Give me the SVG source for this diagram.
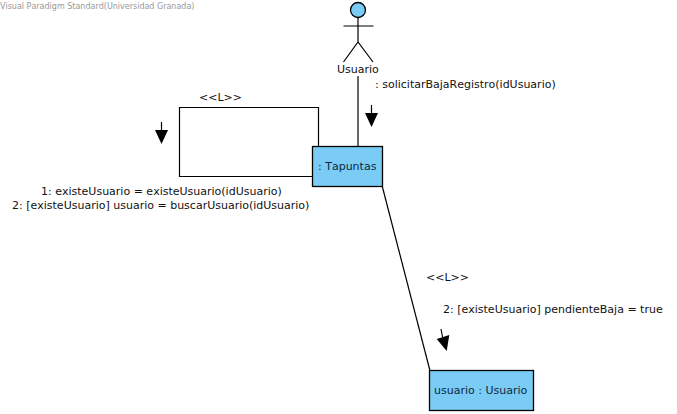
<svg xmlns="http://www.w3.org/2000/svg" width="677" height="414" viewBox="0 0 677 414">
<style>
text{font-family:"DejaVu Sans",sans-serif;font-size:11px;fill:#111;font-kerning:none}
.wm{font-size:8px;fill:#999}
.box{fill:#7accf5;stroke:#000;stroke-width:1.3}
.line{fill:none;stroke:#000;stroke-width:1.2}
.nt{fill:#0a2a40}
</style>
<rect width="677" height="414" fill="#fff"/>
<text class="wm" x="0" y="9">Visual Paradigm Standard(Universidad Granada)</text>
<g id="connectors">
<line class="line" x1="358" y1="76" x2="358" y2="146"/>
<path class="line" d="M318.500 146V107.500H179.500V176.500H312"/>
<line class="line" x1="382.300" y1="186.500" x2="429.800" y2="370"/>
<path class="line" d="M371.500 105V115"/><path d="M365 113H378L371.500 127Z"/>
<path class="line" d="M161.500 122V132"/><path d="M155 130H168L161.500 144Z"/>
<path class="line" d="M441 329L442.500 337"/><path d="M436.700 339L449.300 335L446.700 351Z"/>
</g>
<g id="labels">
<text x="199" y="101">&lt;&lt;L&gt;&gt;</text>
<text x="375" y="88">: solicitarBajaRegistro(idUsuario)</text>
<text x="41" y="195">1: existeUsuario = existeUsuario(idUsuario)</text>
<text x="12" y="209">2: [existeUsuario] usuario = buscarUsuario(idUsuario)</text>
<text x="426" y="281">&lt;&lt;L&gt;&gt;</text>
<text x="443" y="313">2: [existeUsuario] pendienteBaja = true</text>
</g>
<g id="actor-usuario">
<circle class="box" cx="358" cy="10" r="7.500"/>
<path class="line" d="M358 17.500V42M343.500 26H373.500M343.500 62L358 42L373 62"/>
<text x="337" y="73">Usuario</text>
</g>
<g id="node-tapuntas">
<rect class="box" x="312.500" y="146.500" width="70" height="40"/>
<text class="nt" x="318" y="170">: Tapuntas</text>
</g>
<g id="node-usuario">
<rect class="box" x="429.500" y="370.500" width="104" height="40"/>
<text class="nt" x="434" y="394">usuario : Usuario</text>
</g>
</svg>
